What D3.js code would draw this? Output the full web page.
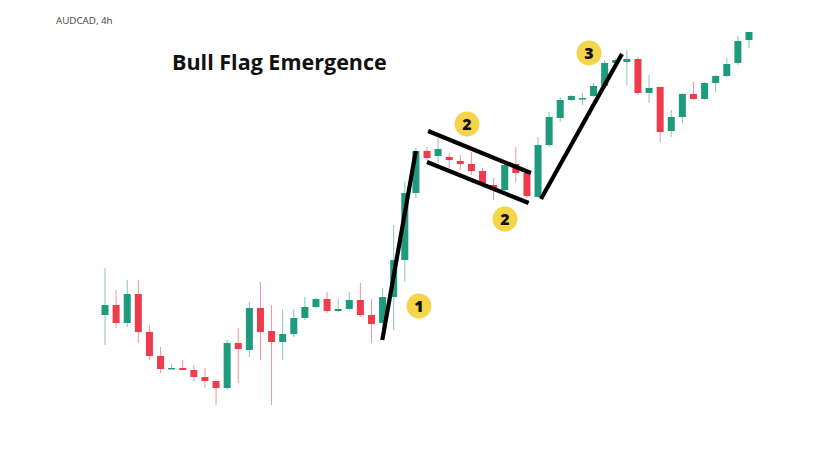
<!DOCTYPE html>
<html>
<head>
<meta charset="utf-8">
<script src="https://cdn.jsdelivr.net/npm/d3@7/dist/d3.min.js"></script>
<style>
  html, body { margin: 0; padding: 0; background: #fff; }
  svg { display: block; }
</style>
</head>
<body>
<svg id="chart" width="826" height="451"></svg>
<script>
// ---- data (AUDCAD, 4h) ----
const symbolLabel = "AUDCAD, 4h";
const chartTitle = "Bull Flag Emergence";
const opens  = [.9105,.9115,.9097,.9126,.9088,.9064,.9051,.9052,.9050,.9043,.9039,.9032,.9077,.9070,.9112,.9089,.9078,.9086,.9102,.9113,.9121,.9109,.9111,.9120,.9105,.9097,.9123,.9160,.9227,.9269,.9264,.9263,.9259,.9256,.9249,.9235,.9230,.9256,.9247,.9223,.9275,.9302,.9320,.9321,.9324,.9334,.9357,.9358,.9361,.9327,.9333,.9289,.9303,.9326,.9321,.9337,.9344,.9357,.9380];
const highs  = [.9152,.9130,.9140,.9140,.9095,.9073,.9056,.9060,.9055,.9052,.9039,.9080,.9092,.9118,.9138,.9115,.9111,.9111,.9123,.9122,.9128,.9121,.9128,.9137,.9121,.9132,.9195,.9238,.9272,.9273,.9282,.9267,.9265,.9268,.9252,.9242,.9256,.9273,.9250,.9283,.9308,.9323,.9325,.9327,.9337,.9360,.9362,.9370,.9363,.9345,.9333,.9310,.9327,.9338,.9338,.9345,.9362,.9384,.9388];
const lows   = [.9075,.9092,.9093,.9077,.9060,.9047,.9051,.9050,.9039,.9032,.9015,.9030,.9037,.9063,.9060,.9015,.9060,.9083,.9100,.9112,.9107,.9108,.9110,.9103,.9077,.9090,.9090,.9138,.9222,.9260,.9257,.9252,.9250,.9245,.9235,.9220,.9229,.9238,.9222,.9222,.9273,.9298,.9319,.9315,.9323,.9332,.9354,.9335,.9325,.9317,.9278,.9283,.9297,.9320,.9320,.9328,.9343,.9355,.9372];
const closes = [.9115,.9097,.9126,.9088,.9064,.9051,.9052,.9050,.9043,.9039,.9032,.9077,.9071,.9112,.9088,.9078,.9086,.9102,.9113,.9121,.9109,.9111,.9120,.9105,.9096,.9123,.9160,.9227,.9269,.9262,.9271,.9260,.9256,.9249,.9237,.9230,.9255,.9247,.9224,.9275,.9303,.9320,.9324,.9322,.9334,.9357,.9360,.9361,.9327,.9332,.9288,.9303,.9326,.9321,.9337,.9344,.9356,.9379,.9388];
const candleIndex = d3.range(opens.length);

// annotation trend lines: [startIndex, startPrice, endIndex, endPrice]
const trendLines = [
  [25.0, .9080, 28.0, .9269],   // pole (1)
  [29.1, .9289, 38.3, .9247],   // flag upper (2)
  [29.0, .9258, 38.1, .9217],   // flag lower (2)
  [39.2, .9221, 46.45, .9366]   // breakout (3)
];
// badge markers: [index, price, label]
const badges = [
  [28.28, .9114, "1"],
  [32.58, .9296, "2"],
  [35.98, .9201, "2"],
  [43.50, .9367, "3"]
];

// ---- scales ----
const upColor = "#1e9b7d", downColor = "#ef3b4b";
const svg = d3.select("#chart");
const step = (751 - 103) / (opens.length - 1);
const x = d3.scaleBand().domain(candleIndex).range([103 - step / 2, 751 + step / 2]).padding(0.37);
const xi = d3.scaleLinear().domain([0, opens.length - 1]).range([103, 751]);
const y = d3.scaleLinear().domain([0.9000, 0.9420]).range([420, 0]);

const candles = candleIndex.map(i => ({ i, o: opens[i], h: highs[i], l: lows[i], c: closes[i] }));

const g = svg.append("g");
const cg = g.selectAll("g.candle").data(candles).join("g").attr("class", "candle");
cg.append("line")
  .attr("x1", d => x(d.i) + x.bandwidth() / 2)
  .attr("x2", d => x(d.i) + x.bandwidth() / 2)
  .attr("y1", d => y(d.h)).attr("y2", d => y(d.l))
  .attr("stroke", d => d.c >= d.o ? upColor : downColor)
  .attr("stroke-opacity", 0.55)
  .attr("stroke-width", 1);
cg.append("rect")
  .attr("x", d => x(d.i))
  .attr("width", x.bandwidth())
  .attr("y", d => y(Math.max(d.o, d.c)))
  .attr("height", d => Math.max(1.5, Math.abs(y(d.o) - y(d.c))))
  .attr("fill", d => d.c >= d.o ? upColor : downColor);

// trend lines
g.selectAll("line.trend").data(trendLines).join("line").attr("class", "trend")
  .attr("x1", d => xi(d[0])).attr("y1", d => y(d[1]))
  .attr("x2", d => xi(d[2])).attr("y2", d => y(d[3]))
  .attr("stroke", "#000").attr("stroke-width", 4.2);

// badges
const bg = g.selectAll("g.badge").data(badges).join("g").attr("class", "badge")
  .attr("transform", d => `translate(${xi(d[0])},${y(d[1])})`);
bg.append("circle").attr("r", 12.5).attr("fill", "#f6d44a");
bg.append("text").text(d => d[2])
  .attr("text-anchor", "middle").attr("dy", "0.36em")
  .attr("font-family", "'Open Sans', sans-serif").attr("font-weight", 800)
  .attr("font-size", 16).attr("fill", "#111");

// texts
svg.append("text").text(symbolLabel)
  .attr("x", 56).attr("y", 24)
  .attr("font-family", "'Open Sans', sans-serif").attr("font-size", 9.8)
  .attr("fill", "#444");
svg.append("text").text(chartTitle)
  .attr("x", 172).attr("y", 70)
  .attr("font-family", "'Open Sans', sans-serif").attr("font-weight", 700)
  .attr("font-size", 21.5).attr("fill", "#111");
</script>
</body>
</html>
